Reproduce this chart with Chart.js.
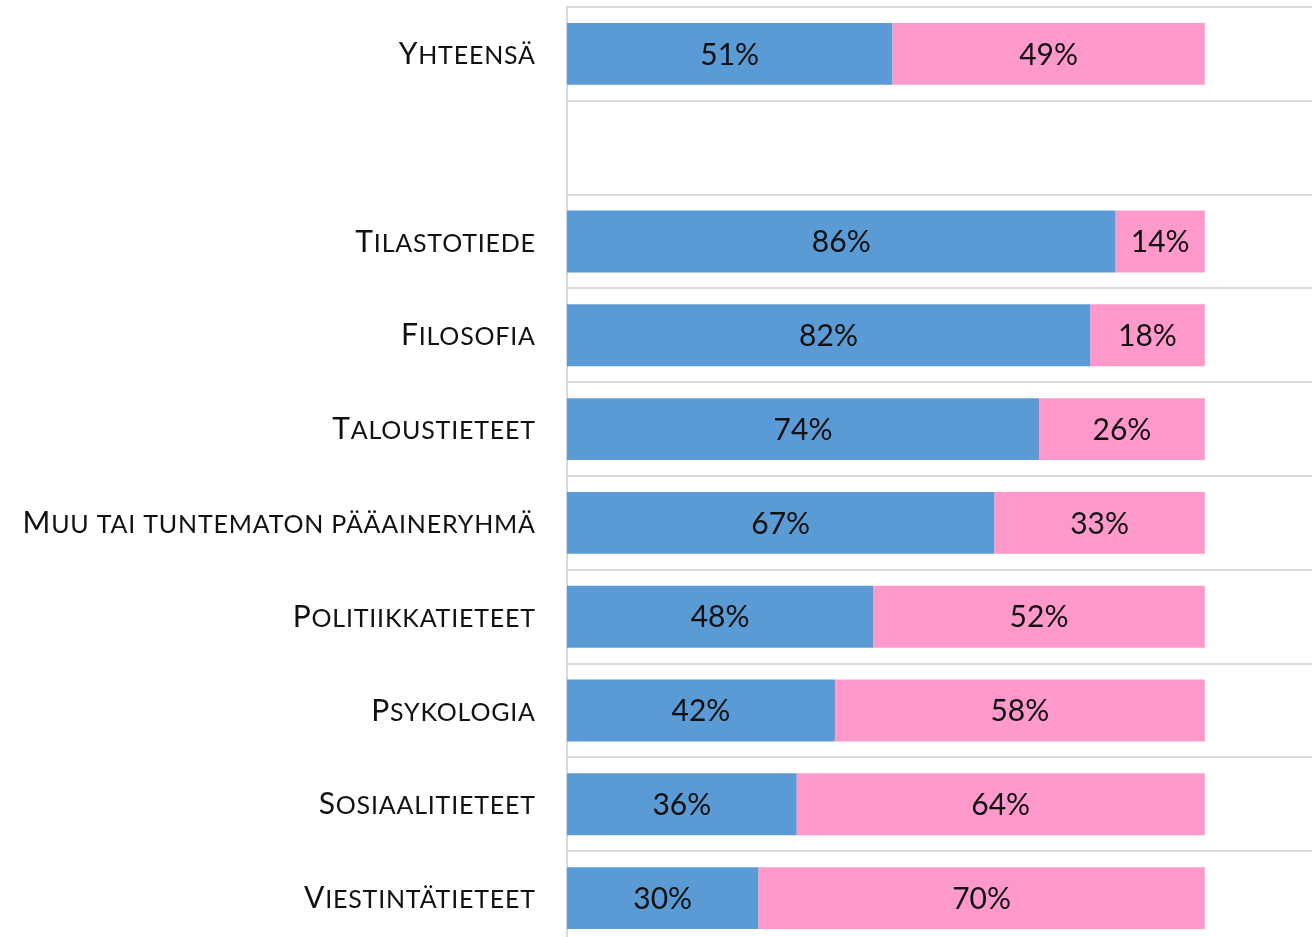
<!DOCTYPE html>
<html>
<head>
<meta charset="utf-8">
<script src="https://cdn.jsdelivr.net/npm/chart.js@4"></script>
<style>
  html, body { margin: 0; padding: 0; background: #fff; overflow: hidden; }
</style>
</head>
<body>
<canvas id="chart" width="1312" height="960"></canvas>
<script>
// Data
const categories = [
    "Yhteensä",
    "",
    "Tilastotiede",
    "Filosofia",
    "Taloustieteet",
    "Muu tai tuntematon pääaineryhmä",
    "Politiikkatieteet",
    "Psykologia",
    "Sosiaalitieteet",
    "Viestintätieteet"
];
const miehet = [51, null, 86, 82, 74, 67, 48, 42, 36, 30];
const naiset = [49, null, 14, 18, 26, 33, 52, 58, 64, 70];

const SPACING = 0.8;

// --- Category labels: first letter capital, the rest small caps ---
const smallCapsLabels = {
    id: "smallCapsLabels",
    afterDraw(chart) {
        const ctx = chart.ctx;
        const yScale = chart.scales.y;
        ctx.save();
        ctx.fillStyle = "#111";
        ctx.textBaseline = "alphabetic";
        ctx.textAlign = "left";
        ctx.letterSpacing = SPACING + "px";
        categories.forEach((lab, i) => {
            if (!lab) return;
            const first = lab[0].toUpperCase();
            const rest = lab.slice(1).toUpperCase();
            ctx.font = "30px Lato";
            const w1 = ctx.measureText(first).width;
            ctx.font = "25px Lato";
            const w2 = ctx.measureText(rest).width;
            let x = yScale.right - 32 - w1 - w2 + SPACING;
            const py = yScale.getPixelForValue(i) + 10;
            ctx.font = "30px Lato";
            ctx.fillText(first, x, py);
            ctx.font = "25px Lato";
            ctx.fillText(rest, x + w1, py);
        });
        ctx.restore();
    }
};

// --- Percent labels in the middle of each bar ---
const barLabels = {
    id: "barLabels",
    afterDatasetsDraw(chart) {
        const ctx = chart.ctx;
        ctx.save();
        ctx.fillStyle = "#111";
        ctx.font = "30px Lato";
        ctx.textAlign = "center";
        ctx.textBaseline = "middle";
        chart.data.datasets.forEach((ds, di) => {
            const meta = chart.getDatasetMeta(di);
            meta.data.forEach((bar, i) => {
                const v = ds.data[i];
                if (v == null) return;
                ctx.fillText(v + "%", (bar.x + bar.base) / 2, bar.y + 1);
            });
        });
        ctx.restore();
    }
};

new Chart(document.getElementById("chart"), {
    type: "bar",
    data: {
        labels: categories,
        datasets: [
            {
                label: "Miehet",
                data: miehet,
                backgroundColor: "#5B9BD5",
                categoryPercentage: 1,
                barPercentage: 0.66
            },
            {
                label: "Naiset",
                data: naiset,
                backgroundColor: "#FF99CC",
                categoryPercentage: 1,
                barPercentage: 0.66
            }
        ]
    },
    options: {
        indexAxis: "y",
        responsive: false,
        animation: false,
        devicePixelRatio: 1,
        layout: { padding: { top: 7, bottom: 15, left: 0, right: 0 } },
        plugins: {
            legend: { display: false },
            tooltip: { enabled: false }
        },
        scales: {
            x: {
                stacked: true,
                display: false,
                min: 0,
                max: 116.8
            },
            y: {
                stacked: true,
                ticks: { display: false },
                grid: {
                    color: "#d9d9d9",
                    lineWidth: 2,
                    drawTicks: false
                },
                border: { color: "#d9d9d9", width: 2 },
                afterFit(scale) {
                    scale.width = 567;
                }
            }
        }
    },
    plugins: [smallCapsLabels, barLabels]
});
</script>
</body>
</html>
